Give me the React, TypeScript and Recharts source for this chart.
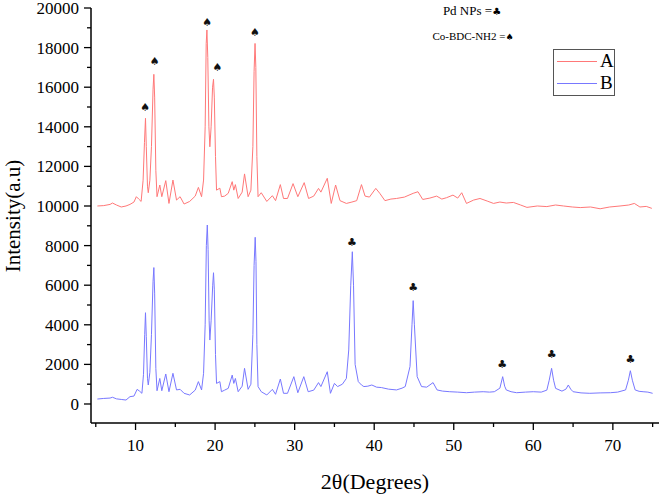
import React from 'react';
import { ComposedChart, Line, XAxis, YAxis, ReferenceDot } from 'recharts';

// sample A (Co-BDC-NH2), offset by 10000
const angleA = [5.2, 6.0, 6.8, 7.1, 7.6, 8.2, 8.8, 9.3, 9.8, 10.1, 10.4, 10.7, 10.95, 11.12, 11.25, 11.35, 11.5, 11.6, 11.8, 12.0, 12.2, 12.3, 12.4, 12.55, 12.7, 13.05, 13.3, 13.8, 14.2, 14.7, 15.15, 15.6, 16.1, 16.8, 17.5, 17.9, 18.3, 18.55, 18.75, 18.88, 18.97, 19.08, 19.22, 19.34, 19.5, 19.68, 19.8, 19.9, 20.05, 20.18, 20.6, 20.8, 21.2, 21.65, 22.15, 22.35, 22.55, 22.9, 23.4, 23.7, 24.15, 24.5, 24.75, 24.9, 25.02, 25.12, 25.25, 25.4, 25.8, 26.5, 27.2, 27.6, 28.2, 28.6, 29.1, 29.8, 30.4, 31.2, 31.75, 32.4, 33.0, 33.3, 34.1, 34.6, 35.15, 35.7, 36.5, 37.2, 37.8, 38.4, 38.85, 39.4, 40.2, 40.7, 41.35, 42.1, 42.8, 43.8, 44.9, 45.5, 46.1, 47.0, 47.85, 48.5, 49.1, 49.9, 50.5, 51.0, 51.6, 52.5, 53.3, 54.2, 55.0, 55.8, 56.6, 57.5, 58.4, 59.2, 60.5, 61.7, 62.8, 63.8, 64.9, 65.9, 67.2, 68.4, 69.6, 70.9, 72.0, 72.7, 73.4, 74.2, 74.9];
const intensityA = [10000, 10020, 10080, 10150, 10050, 9950, 10000, 10080, 10200, 10470, 10350, 10230, 11300, 13200, 14430, 13000, 11000, 10670, 11300, 13000, 15900, 16650, 15500, 11800, 10470, 11060, 10470, 11280, 10130, 11310, 10300, 10470, 10100, 10230, 10500, 10940, 10470, 11310, 14000, 18200, 18890, 17500, 14000, 12990, 14000, 16000, 16400, 15500, 12500, 10800, 10900, 10470, 10500, 10640, 11230, 10800, 11080, 10380, 10700, 11620, 10470, 10800, 13000, 16800, 18210, 17000, 12500, 10470, 10670, 10230, 10520, 10270, 11080, 10380, 10380, 11130, 10470, 11180, 10380, 10500, 10890, 10700, 11400, 10130, 11060, 10270, 10130, 10200, 10270, 11080, 10500, 10450, 10890, 10640, 10270, 10350, 10380, 10450, 10640, 10720, 10330, 10400, 10500, 10350, 10420, 10550, 10400, 10670, 10130, 10300, 10380, 10250, 10130, 10200, 10150, 10180, 10050, 9930, 10000, 9970, 10050, 10000, 9950, 9920, 9950, 9860, 9950, 10000, 10050, 10130, 9950, 9980, 9880];

// sample B (Pd NPs on Co-BDC-NH2)
const angleB = [5.2, 6.0, 6.8, 7.1, 7.6, 8.2, 8.8, 9.3, 9.8, 10.2, 10.5, 10.8, 11.0, 11.15, 11.25, 11.35, 11.5, 11.6, 11.8, 12.0, 12.2, 12.3, 12.4, 12.55, 12.7, 13.05, 13.3, 13.8, 14.2, 14.7, 15.15, 15.6, 16.1, 16.8, 17.5, 17.9, 18.3, 18.55, 18.75, 18.9, 19.02, 19.12, 19.25, 19.34, 19.5, 19.7, 19.8, 19.9, 20.05, 20.18, 20.6, 20.8, 21.2, 21.65, 22.15, 22.35, 22.55, 22.9, 23.4, 23.7, 24.15, 24.5, 24.75, 24.9, 25.04, 25.14, 25.25, 25.4, 25.8, 26.5, 27.2, 27.6, 28.2, 28.6, 29.1, 29.9, 30.4, 31.15, 31.7, 32.4, 33.0, 33.3, 34.1, 34.5, 35.0, 35.4, 36.0, 36.5, 36.8, 37.05, 37.25, 37.4, 37.6, 38.0, 38.4, 38.7, 39.2, 39.7, 40.3, 40.9, 41.8, 42.8, 43.5, 43.9, 44.5, 44.75, 44.9, 45.05, 45.4, 45.95, 46.6, 47.4, 47.9, 48.6, 49.5, 50.5, 51.6, 52.6, 53.7, 54.5, 55.1, 55.8, 56.15, 56.4, 56.6, 57.2, 57.9, 59.0, 60.0, 61.0, 61.7, 62.0, 62.3, 62.55, 62.8, 63.6, 64.1, 64.4, 64.7, 65.0, 66.0, 67.1, 68.4, 69.7, 70.6, 71.6, 71.95, 72.2, 72.45, 72.8, 73.3, 73.8, 74.4, 75.0];
const intensityB = [250, 280, 300, 340, 260, 230, 200, 370, 400, 740, 650, 540, 1500, 3500, 4610, 3400, 1300, 960, 1600, 3500, 6200, 6890, 5600, 1800, 670, 1290, 670, 1515, 620, 1550, 710, 740, 540, 455, 700, 1130, 710, 1550, 4000, 8000, 9040, 7800, 4200, 3230, 4200, 6000, 6630, 5800, 2500, 1040, 1130, 620, 700, 790, 1460, 1040, 1290, 620, 900, 1800, 740, 1000, 3500, 7000, 8420, 7200, 3000, 880, 620, 455, 740, 490, 1260, 540, 540, 1380, 570, 1380, 620, 700, 1080, 880, 1630, 540, 1040, 880, 1000, 1290, 2730, 6000, 7690, 6000, 2000, 1130, 960, 880, 900, 960, 850, 830, 750, 710, 800, 880, 1890, 4000, 5220, 4000, 1380, 880, 850, 1080, 710, 650, 620, 600, 570, 600, 620, 600, 620, 800, 1380, 900, 710, 620, 570, 600, 620, 600, 700, 1200, 1800, 1200, 790, 650, 750, 960, 750, 620, 560, 540, 560, 570, 600, 710, 1200, 1680, 1200, 710, 640, 620, 600, 540];

// peak markers
const spadeAngles = [11.2, 12.4, 19.0, 20.3, 25.0];
const spadeLevels = [15000, 17300, 19300, 17000, 18800];
const clubAngles = [37.2, 44.9, 56.1, 62.3, 72.2];
const clubLevels = [8200, 5900, 2000, 2500, 2250];

const xTicks = [5, 10, 15, 20, 25, 30, 35, 40, 45, 50, 55, 60, 65, 70, 75];
const yTicks = Array.from({ length: 21 }, (_, i) => i * 1000);

const serif = '"Liberation Serif", "Times New Roman", serif';

const seriesA = angleA.map((x, i) => ({ x, y: intensityA[i] }));
const seriesB = angleB.map((x, i) => ({ x, y: intensityB[i] }));

const XTick = (props: any) => {
  const { x, y, payload } = props;
  const major = payload.value % 10 === 0;
  return (
    <g>
      <line x1={x} x2={x} y1={y} y2={y + (major ? 7 : 4)} stroke="#000" strokeWidth={1.3} />
      {major && (
        <text x={x} y={y + 28} textAnchor="middle" fontSize={17} fontFamily={serif} fill="#000">
          {payload.value}
        </text>
      )}
    </g>
  );
};

const YTick = (props: any) => {
  const { x, y, payload } = props;
  const major = payload.value % 2000 === 0;
  return (
    <g>
      <line x1={x - (major ? 7 : 4)} x2={x} y1={y} y2={y} stroke="#000" strokeWidth={1.3} />
      {major && (
        <text x={x - 12} y={y + 6} textAnchor="end" fontSize={17} fontFamily={serif} fill="#000">
          {payload.value}
        </text>
      )}
    </g>
  );
};

const symbolShape = (glyph: string) => (props: any) => (
  <text x={props.cx} y={props.cy + 4} textAnchor="middle" fontSize={11} fontFamily="DejaVu Sans" fill="#111">
    {glyph}
  </text>
);

export default function App() {
  return (
    <div style={{ position: 'absolute', left: 0, top: 0, width: 661, height: 494, background: '#fff', fontFamily: serif }}>
      <ComposedChart width={661} height={494} margin={{ top: 8, right: 2, bottom: 11, left: 8 }}>
        <XAxis
          type="number"
          dataKey="x"
          domain={[4.4, 75.8]}
          ticks={xTicks}
          interval={0}
          tick={<XTick />}
          tickLine={false}
          tickSize={0}
          tickMargin={0}
          height={60}
          axisLine={{ stroke: '#000', strokeWidth: 1.5 }}
          allowDataOverflow
        />
        <YAxis
          type="number"
          domain={[-960, 20000]}
          ticks={yTicks}
          interval={0}
          tick={<YTick />}
          tickLine={false}
          tickSize={0}
          tickMargin={0}
          width={83}
          axisLine={{ stroke: '#000', strokeWidth: 1.5 }}
          allowDataOverflow
        />
        <Line data={seriesA} dataKey="y" stroke="#ff7878" strokeWidth={1} dot={false} type="linear" isAnimationActive={false} />
        <Line data={seriesB} dataKey="y" stroke="#7878ff" strokeWidth={1} dot={false} type="linear" isAnimationActive={false} />
        {spadeAngles.map((a, i) => (
          <ReferenceDot key={'s' + i} x={a} y={spadeLevels[i]} r={0} shape={symbolShape('\u2660')} />
        ))}
        {clubAngles.map((a, i) => (
          <ReferenceDot key={'c' + i} x={a} y={clubLevels[i]} r={0} shape={symbolShape('\u2663')} />
        ))}
      </ComposedChart>

      <div style={{ position: 'absolute', left: 13, top: 216, transform: 'translate(-50%, -50%) rotate(-90deg)', fontSize: 21, whiteSpace: 'nowrap' }}>
        Intensity(a.u)
      </div>
      <div style={{ position: 'absolute', left: 375, top: 482, transform: 'translate(-50%, -50%)', fontSize: 22, whiteSpace: 'nowrap' }}>
        2θ(Degrees)
      </div>

      <div style={{ position: 'absolute', left: 472, top: 11, transform: 'translate(-50%, -50%)', fontSize: 13, whiteSpace: 'nowrap' }}>
        Pd NPs =<span style={{ fontFamily: 'DejaVu Sans', fontSize: 10 }}>{'\u2663'}</span>
      </div>
      <div style={{ position: 'absolute', left: 473, top: 36, transform: 'translate(-50%, -50%)', fontSize: 11, whiteSpace: 'nowrap' }}>
        Co-BDC-NH2 =<span style={{ fontFamily: 'DejaVu Sans', fontSize: 9 }}>{'\u2660'}</span>
      </div>

      <div style={{ position: 'absolute', left: 553, top: 49, width: 60, height: 45, border: '1px solid #555', background: '#fff' }}>
        <div style={{ position: 'absolute', left: 3, top: 11, width: 40, borderTop: '1px solid #ff7878' }} />
        <div style={{ position: 'absolute', left: 46, top: 0, fontSize: 19 }}>A</div>
        <div style={{ position: 'absolute', left: 3, top: 33, width: 40, borderTop: '1px solid #7878ff' }} />
        <div style={{ position: 'absolute', left: 46, top: 22, fontSize: 19 }}>B</div>
      </div>
    </div>
  );
}
